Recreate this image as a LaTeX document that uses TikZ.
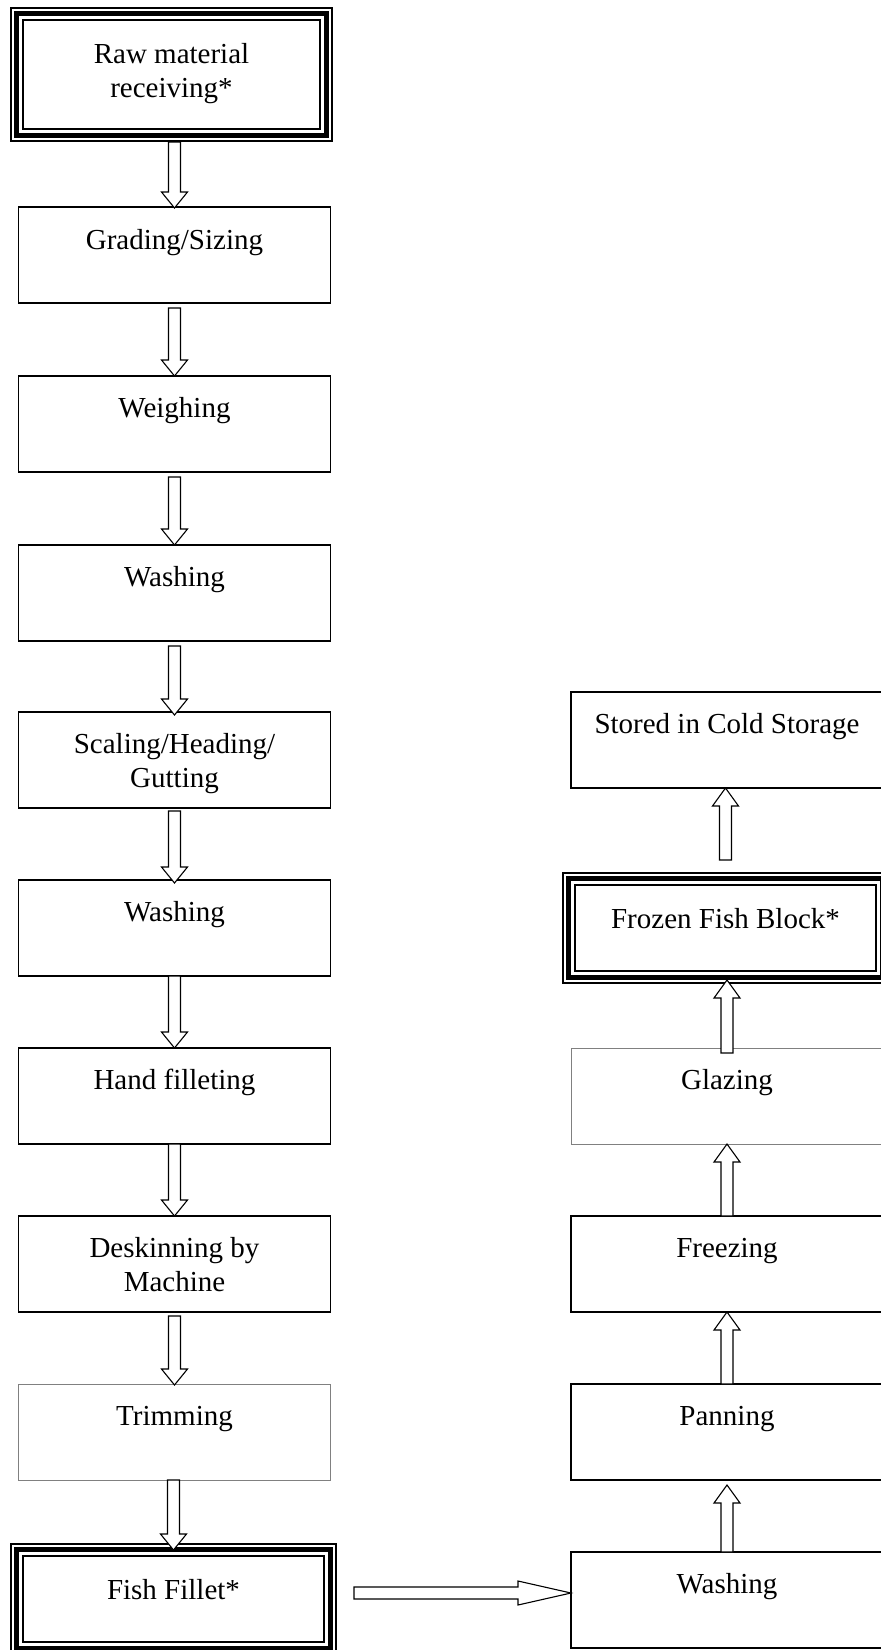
\documentclass[tikz,border=0pt]{standalone}
\usepackage{fontspec}
\setmainfont{Liberation Serif}
\usetikzlibrary{calc}
\tikzset{
  box/.style={draw, line width=1.3pt, minimum width=312pt, minimum height=96pt, inner sep=0pt, outer sep=0pt, anchor=north west},
  greybox/.style={box, draw=black!50, line width=0.9pt},
  triple/.style={draw, line width=1.5pt, inner sep=0pt, outer sep=0pt, anchor=north west},
  lbl/.style={anchor=north, inner sep=0pt, outer sep=0pt, align=center, font=\fontsize{29}{34}\selectfont},
  blk/.style={draw=black, fill=white, line width=1.1pt, line join=miter}
}
\newcommand\myDnArrow[4]{%
  \draw[blk] let \p1=(#1.south), \p2=(#2.north) in
    ({\x2-6pt},{\y1-(#3)*1pt}) -- ({\x2-6pt},{\y2-(#4)*1pt+16pt}) -- ({\x2-13pt},{\y2-(#4)*1pt+16pt})
    -- ({\x2},{\y2-(#4)*1pt}) -- ({\x2+13pt},{\y2-(#4)*1pt+16pt}) -- ({\x2+6pt},{\y2-(#4)*1pt+16pt})
    -- ({\x2+6pt},{\y1-(#3)*1pt}) -- cycle;}
\newcommand\myUpArrow[4]{%
  \draw[blk] let \p1=(#1.north), \p2=(#2.south) in
    ({\x1-6pt},{\y1+(#3)*1pt}) -- ({\x1-6pt},{\y2+(#4)*1pt-18pt}) -- ({\x1-13pt},{\y2+(#4)*1pt-18pt})
    -- ({\x1},{\y2+(#4)*1pt}) -- ({\x1+13pt},{\y2+(#4)*1pt-18pt}) -- ({\x1+6pt},{\y2+(#4)*1pt-18pt})
    -- ({\x1+6pt},{\y1+(#3)*1pt}) -- cycle;}
\begin{document}
\begin{tikzpicture}[x=1pt,y=-1pt]
\useasboundingbox (0,0) rectangle (881,1650);
% left column
\node[triple, minimum width=321pt, minimum height=133pt] (raw) at (11,8) {};
\node[box] (grading) at (18.5,207) {};
\node[box] (weighing) at (18.5,376) {};
\node[box] (washA) at (18.5,545) {};
\node[box] (scaling) at (18.5,712) {};
\node[box] (washB) at (18.5,880) {};
\node[box] (hand) at (18.5,1048) {};
\node[box] (deskin) at (18.5,1216) {};
\node[greybox] (trim) at (18.5,1384) {};
\node[triple, minimum width=325pt, minimum height=110pt] (fillet) at (11,1544) {};
% right column
\node[box] (stored) at (571,692) {};
\node[triple, minimum width=325pt, minimum height=110pt] (frozen) at (563,873) {};
\node[greybox] (glazing) at (571,1048) {};
\node[box] (freezing) at (571,1216) {};
\node[box] (panning) at (571,1384) {};
\node[box] (washC) at (571,1552) {};
% triple borders
\foreach \n in {raw,fillet,frozen}{
  \draw[line width=5.3pt] ([shift={(5.7pt,-5.7pt)}]\n.north west) rectangle ([shift={(-5.7pt,5.7pt)}]\n.south east);
  \draw[line width=2pt] ([shift={(11.6pt,-11.6pt)}]\n.north west) rectangle ([shift={(-11.6pt,11.6pt)}]\n.south east);
}
% labels
\node[lbl] (traw) at ([yshift=-31.2pt]raw.north) {\strut Raw material\\receiving*};
\node[lbl] (tgrading) at ([yshift=-19pt]grading.north) {\strut Grading/Sizing};
\node[lbl] (tweighing) at ([yshift=-17.2pt]weighing.north) {\strut Weighing};
\node[lbl] (twashA) at ([yshift=-17.2pt]washA.north) {\strut Washing};
\node[lbl] (tscaling) at ([yshift=-17.2pt]scaling.north) {\strut Scaling/Heading/\\Gutting};
\node[lbl] (twashB) at ([yshift=-17.2pt]washB.north) {\strut Washing};
\node[lbl] (thand) at ([yshift=-17.2pt]hand.north) {\strut Hand filleting};
\node[lbl] (tdeskin) at ([yshift=-17.2pt]deskin.north) {\strut Deskinning by\\Machine};
\node[lbl] (ttrim) at ([yshift=-17.2pt]trim.north) {\strut Trimming};
\node[lbl] (tfillet) at ([yshift=-31.2pt]fillet.north) {\strut Fish Fillet*};
\node[lbl] (tstored) at ([yshift=-17.2pt]stored.north) {\strut Stored in Cold Storage};
\node[lbl] (tfrozen) at ([yshift=-31.2pt]frozen.north) {\strut Frozen Fish Block*};
\node[lbl] (tglazing) at ([yshift=-17.2pt]glazing.north) {\strut Glazing};
\node[lbl] (tfreezing) at ([yshift=-17.2pt]freezing.north) {\strut Freezing};
\node[lbl] (tpanning) at ([yshift=-17.2pt]panning.north) {\strut Panning};
\node[lbl] (twashC) at ([yshift=-17.2pt]washC.north) {\strut Washing};
% down arrows
\myDnArrow{raw}{grading}{1}{1}
\myDnArrow{grading}{weighing}{5}{0}
\myDnArrow{weighing}{washA}{5}{0}
\myDnArrow{washA}{scaling}{5}{3}
\myDnArrow{scaling}{washB}{3}{3}
\myDnArrow{washB}{hand}{0}{0}
\myDnArrow{hand}{deskin}{0}{0}
\myDnArrow{deskin}{trim}{4}{1}
\myDnArrow{trim}{fillet}{0}{6}
% up arrows
\myUpArrow{washC}{panning}{0}{-5}
\myUpArrow{panning}{freezing}{0}{0}
\myUpArrow{freezing}{glazing}{0}{0}
\myUpArrow{glazing}{frozen}{-5}{3}
\myUpArrow{frozen}{stored}{13}{0}
% horizontal arrow
\draw[blk] let \p1=(fillet.east), \p2=(washC.west) in
  ({\x1+18pt},{\y2+1pt}) -- ({\x2-53pt},{\y2+1pt}) -- ({\x2-53pt},{\y2-5pt})
  -- ({\x2},{\y2+7pt}) -- ({\x2-53pt},{\y2+19pt}) -- ({\x2-53pt},{\y2+13pt})
  -- ({\x1+18pt},{\y2+13pt}) -- cycle;
\end{tikzpicture}
\end{document}
